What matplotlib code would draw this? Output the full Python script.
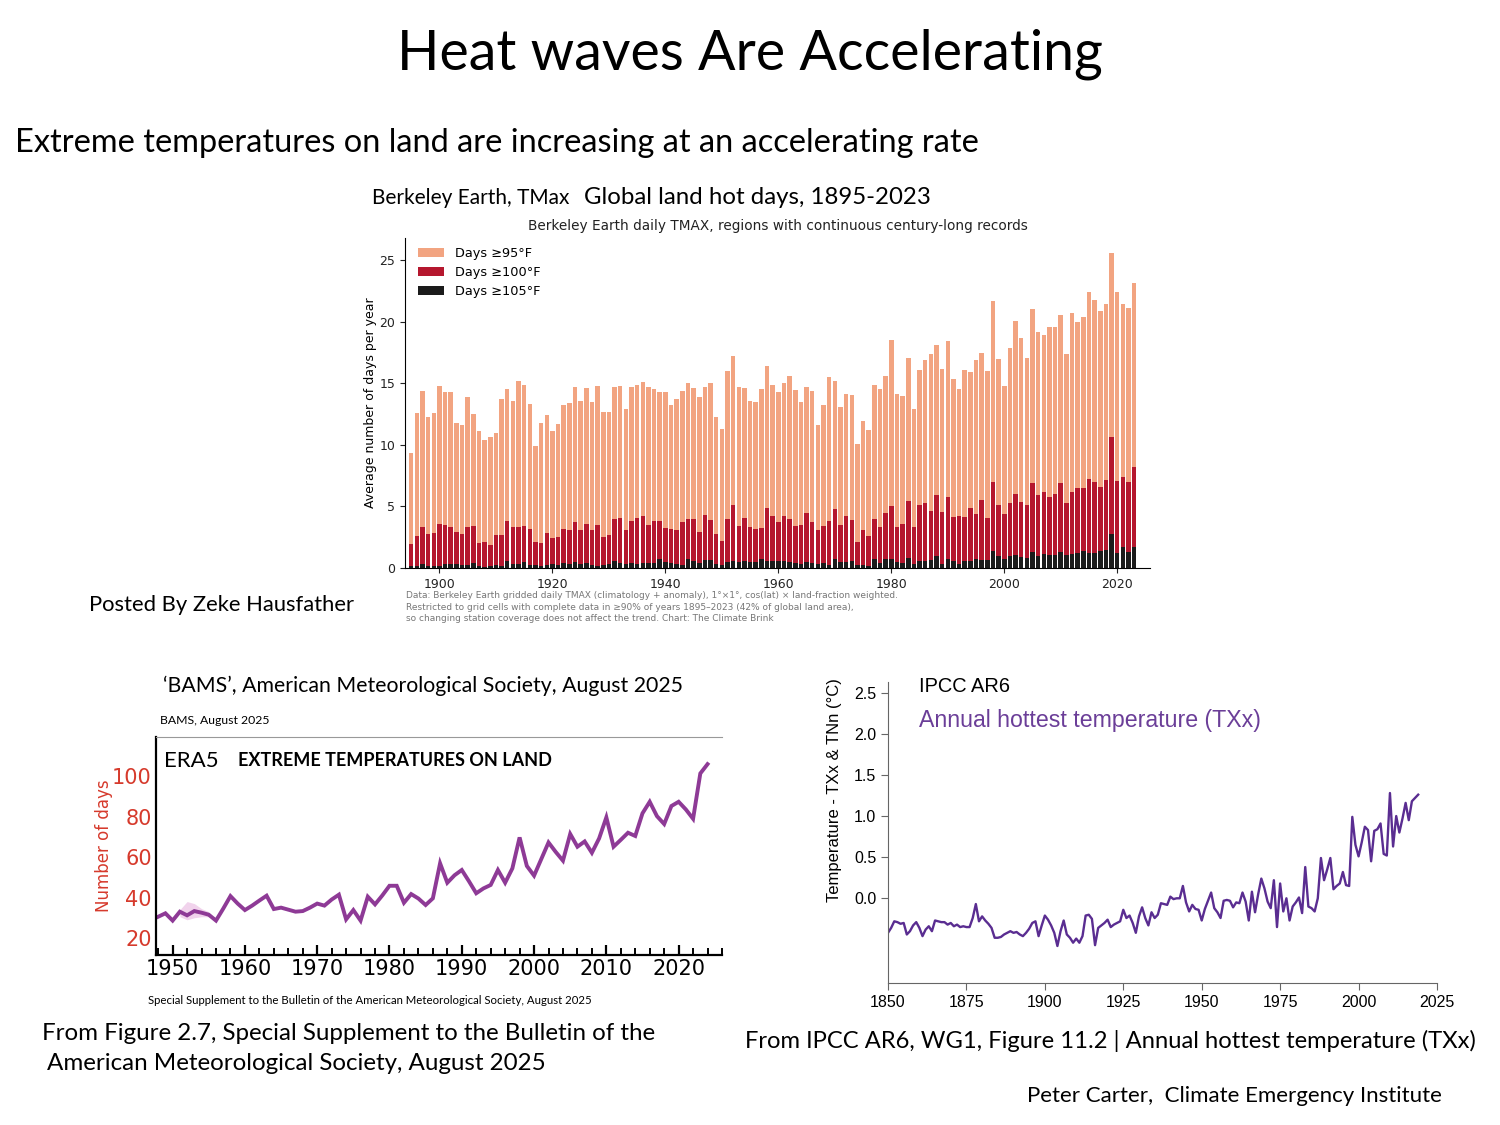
import numpy as np
import matplotlib
matplotlib.use("Agg")
import matplotlib.pyplot as plt
from matplotlib.ticker import MultipleLocator

W, H = 1500, 1125
SLIDE_FONT = ["Lato", "DejaVu Sans"]

# ---- Berkeley Earth hot days, 1895-2023 ----
hot_years = list(range(1895, 2024))
days_95 = [
    9.3, 12.55, 14.4, 12.3, 12.6, 14.8, 14.3, 14.3, 11.8, 11.6,
    13.85, 12.5, 11.1, 10.4, 10.6, 11.0, 13.7, 14.5, 13.6, 15.2,
    14.9, 13.3, 9.9, 11.8, 12.4, 11.1, 11.7, 13.2, 13.4, 14.7,
    13.6, 14.6, 13.5, 14.8, 12.7, 12.7, 14.7, 14.8, 12.9, 14.7,
    14.9, 15.1, 14.7, 14.5, 14.3, 14.3, 13.2, 13.7, 14.4, 15.0,
    14.6, 13.9, 14.7, 15.0, 12.3, 11.3, 16.0, 17.2, 14.7, 14.6,
    13.6, 13.5, 14.5, 16.4, 14.9, 14.3,
    15.0, 15.6, 14.45, 13.5, 14.7, 14.4, 11.6, 13.25, 15.55, 15.2,
    13.1, 14.1, 14.05, 10.05, 11.95, 11.2, 14.85, 14.5, 15.6, 18.5,
    14.1, 13.95, 17.05, 12.9, 16.1, 16.9, 17.35, 18.1, 16.2, 18.4,
    15.35, 14.5, 16.05, 15.9, 16.9, 17.5, 16.0, 21.7, 16.95, 14.8,
    17.9, 20.1, 18.65, 17.05, 21.05, 19.2, 18.9, 19.55, 19.55, 20.55,
    17.35, 20.7, 19.95, 20.4, 22.4, 21.75, 20.85, 21.4, 25.55, 22.4,
    21.45, 21.1, 23.15,
]
days_100 = [
    1.95, 2.6, 3.3, 2.8, 2.85, 3.6, 3.5, 3.35, 2.9, 2.75,
    3.35, 3.4, 2.05, 2.15, 1.9, 2.7, 2.7, 3.8, 3.35, 3.35,
    3.4, 3.2, 2.15, 2.0, 2.85, 2.4, 2.55, 3.15, 3.1, 3.7,
    3.1, 3.6, 3.05, 3.5, 2.55, 2.7, 4.0, 4.05, 3.1, 3.8,
    4.05, 4.25, 3.5, 3.85, 3.85, 3.25, 3.15, 3.1, 3.7, 4.0,
    3.95, 2.9, 4.3, 3.9, 2.8, 2.2, 4.0, 5.1, 3.4, 4.1,
    3.3, 3.2, 3.25, 4.9, 4.2, 3.7,
    4.2, 4.0, 3.45, 3.5, 4.45, 3.75, 3.1, 3.4, 3.8, 4.8,
    3.5, 4.2, 3.9, 2.1, 3.05, 2.6, 4.0, 3.3, 4.45, 5.05,
    3.35, 3.6, 5.45, 3.35, 5.15, 5.3, 4.6, 5.9, 4.55, 5.75,
    4.15, 4.2, 4.15, 4.85, 4.35, 5.5, 4.05, 7.0, 5.1, 4.4,
    5.3, 6.0, 5.35, 5.1, 6.9, 5.9, 6.2, 5.8, 6.0, 6.9,
    5.3, 6.2, 6.5, 6.5, 7.2, 7.0, 6.6, 7.15, 10.6, 7.1,
    7.4, 7.0, 8.2,
]
days_105 = [
    0.16, 0.16, 0.35, 0.19, 0.16, 0.19, 0.32, 0.3, 0.3, 0.27,
    0.27, 0.43, 0.19, 0.11, 0.14, 0.22, 0.19, 0.6, 0.35, 0.35,
    0.46, 0.27, 0.22, 0.14, 0.27, 0.32, 0.24, 0.38, 0.32, 0.49,
    0.3, 0.43, 0.24, 0.19, 0.22, 0.32, 0.57, 0.43, 0.32, 0.41,
    0.35, 0.43, 0.43, 0.38, 0.7, 0.49, 0.43, 0.3, 0.27, 0.7,
    0.6, 0.38, 0.65, 0.65, 0.35, 0.24, 0.49, 0.57, 0.46, 0.57,
    0.46, 0.49, 0.7, 0.6, 0.55, 0.55,
    0.6, 0.51, 0.43, 0.32, 0.46, 0.43, 0.35, 0.41, 0.22, 0.73,
    0.46, 0.49, 0.6, 0.22, 0.24, 0.19, 0.7, 0.38, 0.73, 0.76,
    0.46, 0.43, 0.78, 0.3, 0.6, 0.6, 0.65, 0.97, 0.32, 0.73,
    0.57, 0.35, 0.57, 0.57, 0.76, 0.65, 0.65, 1.41, 0.97, 0.76,
    1.0, 1.03, 0.92, 0.84, 1.33, 1.0, 1.14, 1.06, 1.03, 1.27,
    1.03, 1.14, 1.24, 1.35, 1.19, 1.19, 1.38, 1.46, 2.76, 1.22,
    1.68, 1.33, 1.73,
]
hot_labels = ["Days \u226595\u00b0F", "Days \u2265100\u00b0F", "Days \u2265105\u00b0F"]

# ---- ERA5 extreme temperature days (BAMS) ----
era_years = list(range(1948, 2025))
era_days = [
    30.5, 32.2, 28.6, 33.0, 31.2, 33.3, 32.5, 31.5, 28.6, 34.5,
    40.7, 37.0, 33.8, 36.0, 38.5, 40.9, 34.3, 35.0, 34.0, 33.0,
    33.3, 35.0, 37.0, 36.0, 39.0, 41.4, 29.2, 33.8, 28.6, 40.4,
    36.6, 41.0, 45.8, 45.8, 37.4, 41.7, 39.5, 36.3, 39.6, 56.9,
    47.3, 51.0, 53.6, 48.0, 42.1, 44.5, 46.2, 53.6, 47.3, 54.4,
    69.7, 55.6, 50.8, 59.0, 67.2, 62.5, 58.2, 71.4, 65.1, 67.7,
    62.1, 69.2, 79.6, 65.1, 68.5, 72.0, 70.4, 81.6, 87.3, 80.2,
    76.3, 85.2, 87.3, 83.5, 78.9, 101.3, 105.9,
]
band_years = [1951, 1952, 1953, 1954, 1955]
band_lo = [30.5, 29.0, 30.0, 30.5, 30.5]
band_hi = [34.0, 38.0, 37.0, 34.5, 33.0]

# ---- IPCC AR6 TXx anomaly ----
txx_years = list(range(1850, 2020))
txx = [
    -0.42, -0.36, -0.28, -0.29, -0.31, -0.30, -0.44, -0.40, -0.33, -0.29,
    -0.36, -0.46, -0.38, -0.34, -0.40, -0.27, -0.28, -0.29, -0.29, -0.32,
    -0.30, -0.34, -0.32, -0.35, -0.34, -0.35, -0.35, -0.24, -0.07, -0.28,
    -0.22, -0.27, -0.31, -0.36, -0.48, -0.48, -0.47, -0.44, -0.42, -0.40,
    -0.42, -0.41, -0.44, -0.46, -0.42, -0.37, -0.30, -0.28, -0.46, -0.33,
    -0.21, -0.26, -0.33, -0.42, -0.58, -0.40, -0.27, -0.44, -0.48, -0.54,
    -0.49, -0.54, -0.46, -0.21, -0.20, -0.25, -0.57, -0.36, -0.33, -0.30,
    -0.26, -0.35, -0.32, -0.30, -0.28, -0.14, -0.24, -0.21, -0.30, -0.42,
    -0.22, -0.11, -0.24, -0.33, -0.17, -0.24, -0.20, -0.06, -0.07, -0.08,
    0.02, -0.01, 0.00, 0.00, 0.15, -0.05, -0.16, -0.08, -0.13, -0.14,
    -0.27, -0.13, -0.03, 0.07, -0.12, -0.17, -0.24, -0.03, -0.02, -0.03,
    -0.11, -0.05, -0.06, 0.07, -0.04, -0.27, 0.08, -0.17, 0.05, 0.24,
    0.12, -0.04, -0.12, 0.22, -0.35, 0.18, -0.16, 0.00, -0.27, -0.10,
    -0.05, 0.01, -0.18, 0.38, -0.10, -0.12, -0.16, 0.00, 0.49, 0.22,
    0.35, 0.49, 0.11, 0.15, 0.18, 0.32, 0.16, 0.15, 0.99, 0.65,
    0.51, 0.68, 0.87, 0.83, 0.45, 0.82, 0.84, 0.91, 0.54, 0.52,
    1.28, 0.63, 1.00, 0.80, 0.97, 1.16, 0.95, 1.18, 1.22, 1.26,
]


def box(x0, y0, x1, y1):
    # pixel box (top-left origin) -> figure rect
    return [x0 / W, 1 - y1 / H, (x1 - x0) / W, (y1 - y0) / H]


def put(x, y, s, **kw):
    kw.setdefault("family", SLIDE_FONT)
    kw.setdefault("va", "center")
    return fig.text(x / W, 1 - y / H, s, **kw)


fig = plt.figure(figsize=(15, 11.25), dpi=100)
fig.patch.set_facecolor("white")

# slide text
put(750, 54, "Heat waves Are Accelerating", fontsize=40, ha="center")
put(15, 143, "Extreme temperatures on land are increasing at an accelerating rate", fontsize=23.4)
put(372, 198, "Berkeley Earth, TMax", fontsize=15)
put(584, 197, "Global land hot days, 1895-2023", fontsize=17.3)
put(89, 605, "Posted By Zeke Hausfather", fontsize=15.8)

# ---- top chart ----
ax1 = fig.add_axes(box(405, 238, 1150, 568))
ax1.bar(hot_years, days_95, width=0.8, color="#f2a481", label=hot_labels[0])
ax1.bar(hot_years, days_100, width=0.8, color="#b5172e", label=hot_labels[1])
ax1.bar(hot_years, days_105, width=0.8, color="#1b1b1b", label=hot_labels[2])
ax1.set_xlim(1893.9, 2025.8)
ax1.set_ylim(0, 26.8)
ax1.set_xticks(range(1900, 2021, 20))
ax1.set_yticks(range(0, 26, 5))
ax1.tick_params(labelsize=9, length=3.5, colors="#222")
for s in ["top", "right"]:
    ax1.spines[s].set_visible(False)
ax1.set_ylabel("Average number of days per year", fontsize=9, labelpad=2)
ax1.legend(loc="upper left", frameon=False, fontsize=9.3, borderaxespad=0.3,
           handlelength=2.0, labelspacing=0.45, handletextpad=0.9,
           bbox_to_anchor=(0.005, 1.0))
fig.text(778 / W, 1 - 226 / H,
         "Berkeley Earth daily TMAX, regions with continuous century-long records",
         fontsize=9.8, ha="center", va="center", color="#222")
fig.text(406 / W, 1 - 607 / H,
         "Data: Berkeley Earth gridded daily TMAX (climatology + anomaly), 1\u00b0\u00d71\u00b0, "
         "cos(lat) \u00d7 land-fraction weighted.\n"
         "Restricted to grid cells with complete data in \u226590% of years 1895\u20132023 "
         "(42% of global land area),\n"
         "so changing station coverage does not affect the trend. Chart: The Climate Brink",
         fontsize=6.45, color="#777", va="center", linespacing=1.3)

# ---- bottom left: ERA5 ----
put(163, 686, "\u2018BAMS\u2019, American Meteorological Society, August 2025", fontsize=15.3)
put(160, 720, "BAMS, August 2025", fontsize=8.8)
ax2 = fig.add_axes(box(156, 737, 722, 955))
ax2.fill_between(band_years, band_lo, band_hi, color="#f1d3ec", lw=0)
ax2.plot(era_years, era_days, color="#8e3a96", lw=2.8, solid_joinstyle="miter")
ax2.set_xlim(1947.7, 2026)
ax2.set_ylim(11.6, 119.3)
ax2.set_yticks(range(20, 101, 20))
ax2.set_xticks(range(1950, 2021, 10))
ax2.xaxis.set_minor_locator(MultipleLocator(2))
ax2.tick_params(axis="x", which="major", direction="in", length=7, width=1.6,
                labelsize=15, pad=3)
ax2.tick_params(axis="x", which="minor", direction="in", length=5, width=1.4)
ax2.tick_params(axis="y", length=0, labelsize=15, labelcolor="#d63a2c", pad=3)
ax2.spines["right"].set_visible(False)
ax2.spines["top"].set_color("#999")
ax2.spines["left"].set_linewidth(1.6)
ax2.spines["bottom"].set_linewidth(1.6)
ax2.set_ylabel("Number of days", fontsize=12, color="#d63a2c", labelpad=-1)
ax2.text(0.015, 0.89, "ERA5", transform=ax2.transAxes, fontsize=16,
         family=SLIDE_FONT, va="center")
ax2.text(0.145, 0.89, "EXTREME TEMPERATURES ON LAND", transform=ax2.transAxes,
         fontsize=13, fontweight="bold", family=SLIDE_FONT, va="center")
put(148, 1000, "Special Supplement to the Bulletin of the American Meteorological Society, August 2025",
    fontsize=8.2)
put(42, 1034, "From Figure 2.7, Special Supplement to the Bulletin of the", fontsize=17.4)
put(47, 1064, "American Meteorological Society, August 2025", fontsize=17.4)

# ---- bottom right: IPCC TXx ----
arial = ["Liberation Sans", "DejaVu Sans"]
ax3 = fig.add_axes(box(888, 682, 1437, 983))
ax3.plot(txx_years, txx, color="#5a2d91", lw=1.7)
ax3.set_xlim(1850, 2025)
ax3.set_ylim(-1.03, 2.63)
ax3.set_yticks([0.0, 0.5, 1.0, 1.5, 2.0, 2.5])
ax3.set_xticks(range(1850, 2026, 25))
ax3.tick_params(labelsize=11.5, color="#666", length=5)
for lab in ax3.get_xticklabels() + ax3.get_yticklabels():
    lab.set_family(arial)
for s in ["top", "right"]:
    ax3.spines[s].set_visible(False)
ax3.spines["left"].set_color("#666")
ax3.spines["bottom"].set_color("#666")
fig.text(835 / W, 1 - 790 / H, "Temperature - TXx & TNn (\u00b0C)", rotation=90,
         fontsize=12, family=arial, ha="center", va="center")
put(919, 687, "IPCC AR6", fontsize=14.4, family=arial)
put(919, 721, "Annual hottest temperature (TXx)", fontsize=16.7, family=arial, color="#6b3e98")
put(745, 1041, "From IPCC AR6, WG1, Figure 11.2 | Annual hottest temperature (TXx)", fontsize=17.1)
put(1027, 1096, "Peter Carter,  Climate Emergency Institute", fontsize=16)

fig.savefig("out.png", dpi=100)
